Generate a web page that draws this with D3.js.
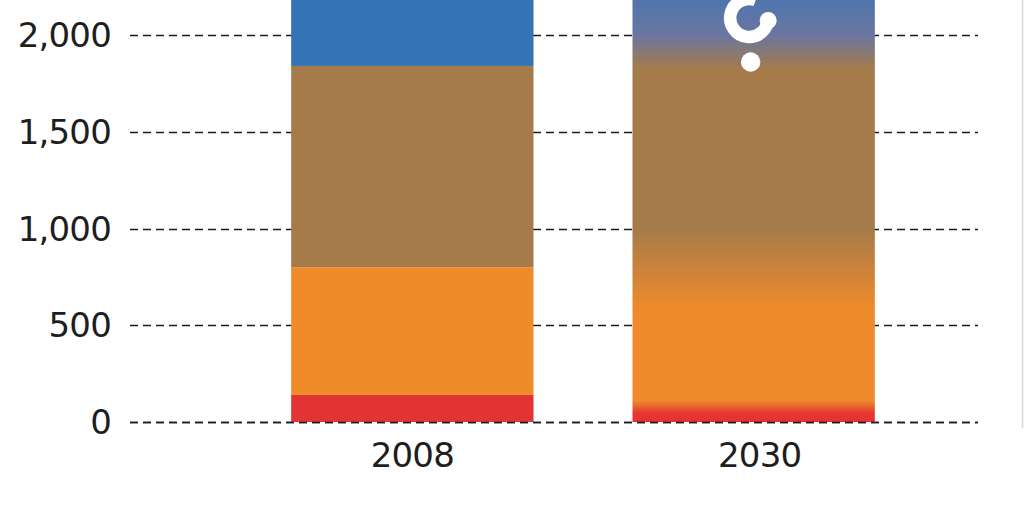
<!DOCTYPE html>
<html><head><meta charset="utf-8">
<script src="https://cdn.jsdelivr.net/npm/d3@7"></script>
<style>body{margin:0;background:#fff;overflow:hidden}svg{display:block}</style>
</head><body>
<svg id="c" width="1024" height="526"></svg>
<script>
const categories = ["2008", "2030"];
const seriesNames = ["red", "orange", "brown", "blue"];
const values2008 = [140, 660, 1040, 400];
const values2030 = [60, 600, 1220, 360];
const yTicks = [0, 500, 1000, 1500, 2000];
const colors = ["#e23434", "#ef8b29", "#a67b4a", "#3474b5"];

const svg = d3.select("#c");
const W = 1024, H = 526;
const y = d3.scaleLinear().domain([0, 2000]).range([422, 35]);
const x = d3.scaleBand().domain(categories).range([120.5, 1045.5]).paddingInner(0.29).paddingOuter(0.5);

const defs = svg.append("defs");
defs.append("clipPath").attr("id", "clip").append("rect").attr("x", 0).attr("y", 0).attr("width", W).attr("height", 423);

const FONT = "'DejaVu Sans', sans-serif";

// gridlines behind bars
svg.append("g").selectAll("line").data(yTicks).join("line")
  .attr("x1", 130).attr("x2", 978)
  .attr("y1", d => Math.round(y(d)) + 0.5).attr("y2", d => Math.round(y(d)) + 0.5)
  .attr("stroke", "#1a1a1a").attr("stroke-width", 1.7).attr("stroke-dasharray", "8,5");

// y tick labels
svg.append("g").selectAll("text").data(yTicks).join("text")
  .attr("x", 111).attr("y", d => y(d) + 12)
  .attr("text-anchor", "end")
  .attr("font-family", FONT).attr("font-size", 34).attr("fill", "#1e1e1e")
  .attr("letter-spacing", -0.8)
  .text(d => d3.format(",")(d));

const bars = svg.append("g").attr("clip-path", "url(#clip)");

// 2008 stacked solid
let cum = 0;
const segs2008 = values2008.map((v, i) => { const s = {y0: cum, y1: cum + v, c: colors[i]}; cum += v; return s; });
bars.selectAll("rect.s08").data(segs2008).join("rect").attr("class", "s08")
  .attr("x", x("2008")).attr("width", x.bandwidth())
  .attr("y", d => y(d.y1)).attr("height", d => y(d.y0) - y(d.y1))
  .attr("fill", d => d.c);

// 2030 gradient bar
cum = 0;
const segs2030 = values2030.map((v, i) => { const s = {y0: cum, y1: cum + v, c: colors[i]}; cum += v; return s; });
const top2030 = cum;
const grad = defs.append("linearGradient").attr("id", "g30")
  .attr("gradientUnits", "userSpaceOnUse").attr("x1", 0).attr("x2", 0)
  .attr("y1", y(0)).attr("y2", y(top2030));
const span = y(0) - y(top2030);
const off = v => (y(0) - y(v)) / span;
const stops = [
  {o: 0, c: "#e3302f"},
  {o: off(segs2030[0].y1 - 10), c: "#e63a33"},
  {o: off(segs2030[0].y1 + 50), c: "#ee8a2b"},
  {o: off(segs2030[1].y1 - 70), c: "#ee8a2b"},
  {o: off(segs2030[1].y1 + 340), c: "#a67b4a"},
  {o: off(segs2030[2].y1 - 60), c: "#a67b4a"},
  {o: off(segs2030[2].y1 + 120), c: "#6a76a0"},
  {o: 1, c: "#4674b2"}
];
grad.selectAll("stop").data(stops).join("stop")
  .attr("offset", d => Math.max(0, Math.min(1, d.o))).attr("stop-color", d => d.c);
bars.append("rect")
  .attr("x", x("2030")).attr("width", x.bandwidth())
  .attr("y", y(top2030)).attr("height", y(0) - y(top2030))
  .attr("fill", "url(#g30)");

// question mark decoration (top clipped)
const bc = x("2030") + x.bandwidth() / 2;   // ~753
const qcx = bc - 4.5, qcy = 18, qr = 19;
const aS = -70 * Math.PI / 180;
const q = svg.append("g").attr("clip-path", "url(#clip)");
q.append("path")
  .attr("d", `M${qcx + qr * Math.cos(aS)},${qcy + qr * Math.sin(aS)} A${qr},${qr} 0 1 0 ${qcx + qr},${qcy}`)
  .attr("fill", "none").attr("stroke", "#fff").attr("stroke-width", 12.5).attr("stroke-linecap", "butt");
q.append("circle").attr("cx", qcx + qr).attr("cy", qcy + 2.5).attr("r", 8.5).attr("fill", "#fff");
q.append("circle").attr("cx", bc - 3).attr("cy", 62).attr("r", 9.7).attr("fill", "#fff");

// zero line over bars
svg.append("line").attr("x1", 130).attr("x2", 978)
  .attr("y1", Math.round(y(0)) + 0.5).attr("y2", Math.round(y(0)) + 0.5)
  .attr("stroke", "#1a1a1a").attr("stroke-width", 1.7).attr("stroke-dasharray", "8,5");

// x labels
svg.append("g").selectAll("text").data(categories).join("text")
  .attr("x", (d, i) => x(d) + x.bandwidth() / 2 + (i ? 6 : 0)).attr("y", 467)
  .attr("text-anchor", "middle")
  .attr("font-family", FONT).attr("font-size", 34).attr("fill", "#1e1e1e")
  .attr("letter-spacing", -0.8)
  .text(d => d);

// right edge border
svg.append("line").attr("x1", 1022.5).attr("x2", 1022.5).attr("y1", 0).attr("y2", 428)
  .attr("stroke", "#d8d8d8").attr("stroke-width", 1.5);
</script>
</body></html>
